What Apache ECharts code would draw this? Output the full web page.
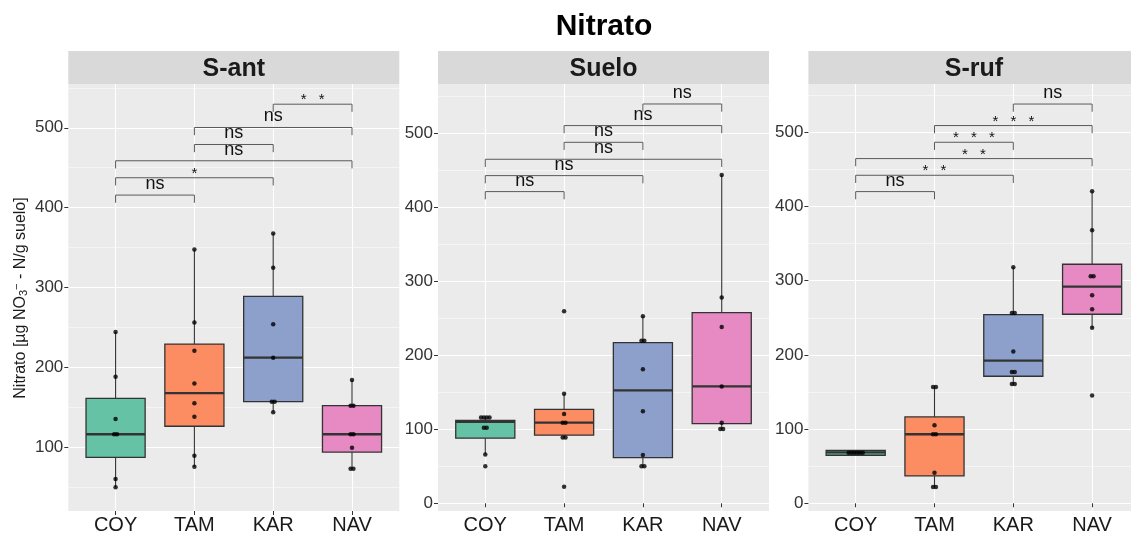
<!DOCTYPE html>
<html><head><meta charset="utf-8">
<script src="https://cdn.jsdelivr.net/npm/echarts@6/dist/echarts.min.js"></script>
<style>html,body{margin:0;padding:0;background:#fff}#c{width:1131px;height:535px}</style>
</head><body><div id="c"></div>
<script>
// ---------------- data ----------------
const categories = ['COY', 'TAM', 'KAR', 'NAV'];
const panelNames = ['S-ant', 'Suelo', 'S-ruf'];
const yTicks = [[100, 200, 300, 400, 500], [0, 100, 200, 300, 400, 500], [0, 100, 200, 300, 400, 500]];
const yMinorTicks = [[50, 150, 250, 350, 450, 550], [50, 150, 250, 350, 450, 550], [50, 150, 250, 350, 450, 550]];
const yLimits = [[19.8, 554.9], [-10.4, 566.6], [-10.4, 565]];

// box stats per category: [lower whisker, Q1, median, Q3, upper whisker]
const boxSant  = [[49.5, 87, 116, 161, 244], [75.4, 126, 167.6, 229, 347.6], [143.4, 156.8, 211.9, 288.7, 367.6], [72.9, 93.7, 116, 151.8, 183.9]];
const boxSuelo = [[66, 88, 110, 112, 116], [89, 92, 109, 127, 148], [50, 61.7, 152.7, 217.1, 252.7], [100.5, 107.7, 158, 257.7, 443.7]];
const boxSruf  = [[64.7, 64.7, 68.5, 71.4, 71.4], [22, 36.8, 93, 116.4, 156.8], [160.8, 171.2, 192.3, 254.3, 318], [236.7, 254.7, 292, 322.1, 420.5]];

// individual observations per category
const ptsSant  = [[244, 188, 135, 116, 116, 60, 49.5], [347.6, 256, 220.7, 179.7, 154.7, 138, 89, 75.4], [367.6, 324.6, 253.7, 211.9, 156.8, 156.8, 143.4], [183.9, 151.8, 151.8, 116, 116, 99.2, 72.9, 72.9]];
const ptsSuelo = [[116, 116, 116, 116, 102, 102, 66, 50], [259.5, 148, 120.7, 109, 109, 89, 89, 22.5], [252.7, 219.8, 219.8, 181, 124.3, 65.3, 50, 50], [443.7, 278, 238.3, 158, 109, 100.5, 100.5]];
const ptsSruf  = [[68, 68, 68, 68, 68, 68], [156.8, 156.8, 105.1, 93, 93, 41.3, 22, 22], [318, 256.5, 256.5, 204.4, 177, 177, 160.8, 160.8], [420.5, 367.9, 305.9, 305.9, 280.3, 261.5, 236.7, 145.1]];

// significance comparisons (category positions 1..4)
const pairs = [[1, 2], [1, 3], [1, 4], [2, 3], [2, 4], [3, 4]];
const sigSant  = ['ns', '*', 'ns', 'ns', 'ns', '**'];
const sigSuelo = ['ns', 'ns', 'ns', 'ns', 'ns', 'ns'];
const sigSruf  = ['ns', '**', '**', '***', '***', 'ns'];
const bracketYSant  = [415.7, 437.4, 458.7, 479.1, 500.4, 529.6];
const bracketYSuelo = [421.2, 442.8, 464.9, 487.8, 510.4, 539.6];
const bracketYSruf  = [420, 442, 464.5, 486.5, 509, 538];

// ---------------- styling / layout ----------------
const BOX_COLORS = ['#66c2a5', '#fc8d62', '#8da0cb', '#e78ac3'];
const FONT = 'Liberation Sans, Arial, Helvetica, sans-serif';
const PANEL_LEFT = [68.3, 438, 808.4];
const PANEL_W = 331, PANEL_TOP = 84, PANEL_H = 427;
const DOT_STEP = 0.036;

const boxes = [boxSant, boxSuelo, boxSruf];
const points = [ptsSant, ptsSuelo, ptsSruf];
const sigs = [sigSant, sigSuelo, sigSruf];
const bracketYs = [bracketYSant, bracketYSuelo, bracketYSruf];

function dotData(groups) {
  const out = [];
  groups.forEach((vals, k) => {
    const counts = {};
    vals.forEach(v => { counts[v] = (counts[v] || 0) + 1; });
    const seen = {};
    vals.forEach(v => {
      const n = counts[v];
      const j = seen[v] || 0;
      seen[v] = j + 1;
      out.push([k + 1 + (j - (n - 1) / 2) * DOT_STEP, v]);
    });
  });
  return out;
}

function boxRender(params, api) {
  const x = api.value(0);
  const pLow = api.coord([x, api.value(1)]);
  const pQ1 = api.coord([x, api.value(2)]);
  const pMed = api.coord([x, api.value(3)]);
  const pQ3 = api.coord([x, api.value(4)]);
  const pHigh = api.coord([x, api.value(5)]);
  const w = api.size([0.75, 0])[0];
  const cx = pMed[0], hw = w / 2;
  const col = BOX_COLORS[api.value(6)];
  const stroke = '#333333';
  return {
    type: 'group', children: [
      { type: 'line', shape: { x1: cx, y1: pQ3[1], x2: cx, y2: pHigh[1] }, style: { stroke, lineWidth: 1.1 } },
      { type: 'line', shape: { x1: cx, y1: pQ1[1], x2: cx, y2: pLow[1] }, style: { stroke, lineWidth: 1.1 } },
      { type: 'rect', shape: { x: cx - hw, y: pQ3[1], width: w, height: pQ1[1] - pQ3[1] }, style: { fill: col, stroke, lineWidth: 1.3 } },
      { type: 'line', shape: { x1: cx - hw, y1: pMed[1], x2: cx + hw, y2: pMed[1] }, style: { stroke, lineWidth: 2.3 } }
    ]
  };
}

function makeBracketRender(panel) {
  return function (params, api) {
    const y = api.value(2);
    const p1 = api.coord([api.value(0), y]);
    const p2 = api.coord([api.value(1), y]);
    const tip = 7.7;
    const label = sigs[panel][api.value(3)];
    const children = [{
      type: 'polyline',
      shape: { points: [[p1[0], p1[1] + tip], [p1[0], p1[1]], [p2[0], p2[1]], [p2[0], p2[1] + tip]] },
      style: { stroke: '#5a5a5a', lineWidth: 1, fill: null }
    }];
    const cx = (p1[0] + p2[0]) / 2;
    if (label === 'ns') {
      children.push({ type: 'text', x: cx, y: p1[1] - 2, style: { text: 'ns', font: '18px ' + FONT, fill: '#111', align: 'center', verticalAlign: 'bottom' } });
    } else {
      const n = label.length;
      for (let s = 0; s < n; s++) {
        children.push({ type: 'text', x: cx + (s - (n - 1) / 2) * 18, y: p1[1] - 4, style: { text: '*', font: '15px ' + FONT, fill: '#111', align: 'center', verticalAlign: 'middle' } });
      }
    }
    return { type: 'group', children };
  };
}

const grid = [], xAxis = [], yAxis = [], series = [], graphic = [];
for (let i = 0; i < 3; i++) {
  grid.push({ left: PANEL_LEFT[i], top: PANEL_TOP, width: PANEL_W, height: PANEL_H, show: true, backgroundColor: '#ebebeb', borderWidth: 0, containLabel: false, outerBoundsMode: 'none' });
  xAxis.push({
    gridIndex: i, type: 'value', min: 0.4, max: 4.6,
    axisLine: { show: false },
    axisTick: { show: true, length: 4, customValues: [1, 2, 3, 4], lineStyle: { color: '#333' } },
    axisLabel: { customValues: [1, 2, 3, 4], formatter: v => categories[Math.round(v) - 1], fontSize: 20, color: '#1a1a1a', margin: 4, fontFamily: FONT },
    splitLine: { show: true, lineStyle: { color: '#ffffff', width: 1.1 } }
  });
  yAxis.push({
    gridIndex: i, type: 'value', min: yLimits[i][0], max: yLimits[i][1], position: 'left',
    axisLine: { show: false },
    axisTick: { show: true, length: 4, customValues: yTicks[i], lineStyle: { color: '#333' } },
    axisLabel: { customValues: yTicks[i], fontSize: 17, color: '#333', margin: 5, fontFamily: FONT },
    splitLine: { show: true, lineStyle: { color: '#ffffff', width: 1.1 } }
  });
  yAxis.push({
    gridIndex: i, type: 'value', min: yLimits[i][0], max: yLimits[i][1], position: 'left',
    axisLine: { show: false },
    axisTick: { show: false, customValues: yMinorTicks[i] },
    axisLabel: { show: false, customValues: yMinorTicks[i] },
    splitLine: { show: true, lineStyle: { color: '#ffffff', width: 0.5 } }
  });
  series.push({
    type: 'custom', xAxisIndex: i, yAxisIndex: 2 * i, z: 2, silent: true,
    data: boxes[i].map((b, k) => [k + 1, b[0], b[1], b[2], b[3], b[4], k]),
    encode: { x: 0, y: [1, 2, 3, 4, 5] },
    renderItem: boxRender
  });
  series.push({
    type: 'scatter', xAxisIndex: i, yAxisIndex: 2 * i, z: 3, silent: true,
    symbol: 'circle', symbolSize: 4.5, itemStyle: { color: '#000' },
    data: dotData(points[i])
  });
  series.push({
    type: 'custom', xAxisIndex: i, yAxisIndex: 2 * i, z: 4, silent: true, clip: false,
    data: pairs.map((p, k) => [p[0], p[1], bracketYs[i][k], k]),
    encode: { x: [0, 1], y: 2 },
    renderItem: makeBracketRender(i)
  });
  graphic.push({ type: 'rect', shape: { x: PANEL_LEFT[i], y: 51, width: PANEL_W, height: 33 }, style: { fill: '#d9d9d9' }, silent: true });
  graphic.push({ type: 'text', x: PANEL_LEFT[i] + PANEL_W / 2, y: 69, style: { text: panelNames[i], font: 'bold 25px ' + FONT, fill: '#1a1a1a', align: 'center', verticalAlign: 'middle' }, silent: true });
}
graphic.push({ type: 'text', x: 604, y: 27, style: { text: 'Nitrato', font: 'bold 30px ' + FONT, fill: '#000', align: 'center', verticalAlign: 'middle' }, silent: true });
graphic.push({
  type: 'text', x: 20.5, y: 298, rotation: Math.PI / 2, silent: true,
  style: {
    text: '{a|Nitrato [µg NO}{b|3}{c|−}{a| - N/g suelo]}',
    align: 'center', verticalAlign: 'middle', fill: '#1a1a1a',
    rich: {
      a: { fontSize: 16, fontFamily: FONT, fill: '#1a1a1a', lineHeight: 22, verticalAlign: 'middle' },
      b: { fontSize: 11, fontFamily: FONT, fill: '#1a1a1a', lineHeight: 22, verticalAlign: 'bottom', padding: [0, 0, 2, 0] },
      c: { fontSize: 11, fontFamily: FONT, fill: '#1a1a1a', lineHeight: 22, verticalAlign: 'top', padding: [2, 0, 0, 0] }
    }
  }
});

const chart = echarts.init(document.getElementById('c'), null, { renderer: 'canvas' });
chart.setOption({ animation: false, backgroundColor: '#ffffff', grid, xAxis, yAxis, series, graphic });
</script>
</body></html>
